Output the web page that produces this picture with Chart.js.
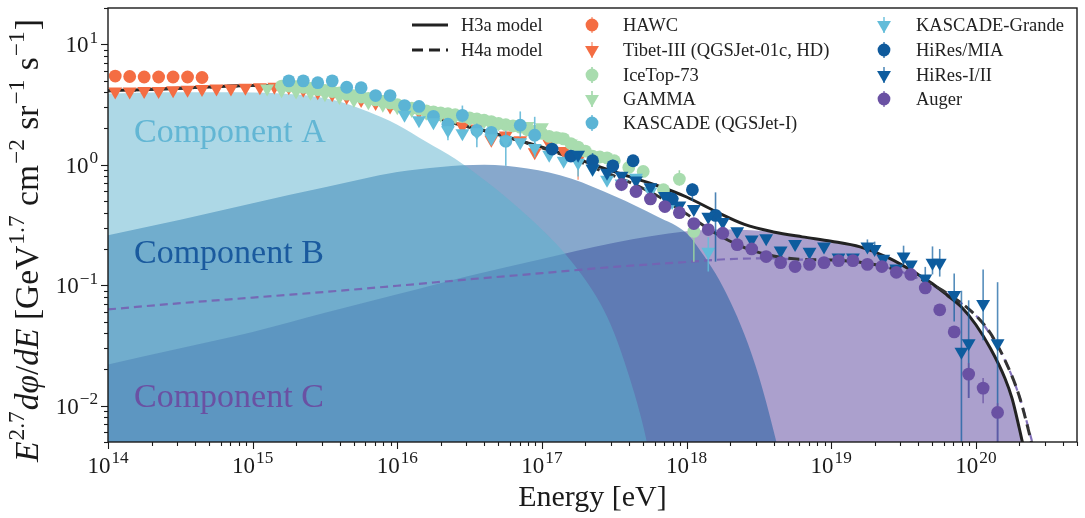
<!DOCTYPE html>
<html>
<head>
<meta charset="utf-8">
<script src="https://cdn.jsdelivr.net/npm/chart.js@4.4.1/dist/chart.umd.min.js"></script>
<style>
  html, body { margin: 0; padding: 0; background: #fff; }
</style>
</head>
<body>
<canvas id="myChart" width="1085" height="518"></canvas>
<script>
const SERIF = '"Liberation Serif", "DejaVu Serif", serif'

// model curves
const h3aLogE = [14.0, 14.25, 14.5, 14.75, 15.0, 15.2, 15.4, 15.6, 15.8, 16.0, 16.2, 16.4, 16.6, 16.8, 17.0, 17.2, 17.4, 17.6, 17.8, 18.0, 18.2, 18.4, 18.6, 18.8, 19.0, 19.2, 19.4, 19.6, 19.7, 19.8, 19.9, 20.0, 20.1, 20.2, 20.25, 20.3, 20.35]
const h3aFlux = [4.12, 4.2, 4.32, 4.45, 4.55, 4.5, 4.3, 4.05, 3.6, 3.0, 2.6, 2.2, 1.92, 1.64, 1.4, 1.17, 0.96, 0.8, 0.67, 0.54, 0.41, 0.32, 0.277, 0.252, 0.232, 0.208, 0.168, 0.123, 0.103, 0.083, 0.066, 0.047, 0.03, 0.017, 0.0115, 0.0065, 0.0035]

const h4aLogE = [14.0, 14.25, 14.5, 14.75, 15.0, 15.2, 15.4, 15.6, 15.8, 16.0, 16.2, 16.4, 16.6, 16.8, 17.0, 17.2, 17.4, 17.6, 17.8, 18.0, 18.2, 18.4, 18.6, 18.8, 19.0, 19.2, 19.4, 19.6, 19.8, 20.0, 20.1, 20.2, 20.3, 20.4]
const h4aFlux = [4.12, 4.2, 4.32, 4.45, 4.55, 4.5, 4.3, 4.05, 3.6, 3.0, 2.6, 2.2, 1.92, 1.64, 1.38, 1.14, 0.9, 0.72, 0.55, 0.39, 0.27, 0.205, 0.175, 0.164, 0.162, 0.155, 0.14, 0.115, 0.086, 0.056, 0.04, 0.024, 0.012, 0.0042]

const h4aCLogE = [14.0, 14.5, 15.0, 15.5, 16.0, 16.5, 17.0, 17.5, 18.0, 18.3, 18.6, 18.8, 19.0, 19.2, 19.4, 19.6, 19.8, 20.0, 20.1, 20.2, 20.3, 20.4]
const h4aCFlux = [0.063, 0.071, 0.079, 0.088, 0.099, 0.112, 0.126, 0.142, 0.156, 0.165, 0.167, 0.163, 0.161, 0.154, 0.139, 0.114, 0.085, 0.056, 0.039, 0.024, 0.012, 0.0045]

// shaded components
const compALogE = [14.0, 14.4, 14.8, 15.0, 15.2, 15.4, 15.6, 15.8, 16.0, 16.2, 16.4, 16.6, 16.8, 17.0, 17.2, 17.4, 17.5, 17.6, 17.7, 17.8]
const compAFlux = [3.9, 4.0, 4.0, 3.97, 3.9, 3.72, 3.35, 2.75, 2.15, 1.55, 1.12, 0.75, 0.48, 0.29, 0.16, 0.072, 0.04, 0.018, 0.0068, 0.0018]

const compBLogE = [14.0, 14.5, 15.0, 15.5, 16.0, 16.3, 16.6, 16.9, 17.2, 17.5, 17.8, 18.0, 18.1, 18.2, 18.3, 18.4, 18.5, 18.6, 18.7]
const compBFlux = [0.26, 0.35, 0.48, 0.65, 0.87, 0.96, 1.0, 0.93, 0.77, 0.55, 0.37, 0.27, 0.19, 0.125, 0.074, 0.039, 0.0175, 0.0063, 0.002]

const compCLogE = [14.0, 14.5, 15.0, 15.5, 16.0, 16.5, 17.0, 17.5, 18.0, 18.3, 18.6, 18.8, 19.0, 19.2, 19.4, 19.6, 19.7, 19.8, 19.9, 20.0, 20.1, 20.2, 20.25, 20.3, 20.35]
const compCFlux = [0.022, 0.030, 0.041, 0.059, 0.084, 0.12, 0.165, 0.225, 0.28, 0.29, 0.275, 0.25, 0.232, 0.208, 0.168, 0.123, 0.103, 0.083, 0.066, 0.047, 0.03, 0.017, 0.0115, 0.0065, 0.0035]

// measurements (null = error bar hidden by the marker)
const hawcLogE = [14.05, 14.15, 14.25, 14.35, 14.45, 14.55, 14.65]
const hawcFlux = [5.45, 5.4, 5.35, 5.35, 5.35, 5.35, 5.3]

const tibetLogE = [14.05, 14.15, 14.25, 14.35, 14.45, 14.55, 14.65, 14.75, 14.85, 14.95, 15.05, 15.15, 15.25, 15.35, 15.45, 15.55, 15.65, 15.75, 15.85, 15.95, 16.05, 16.15, 16.25, 16.35, 16.45, 16.55, 16.65, 16.75, 16.85, 16.95, 17.05, 17.15, 17.25]
const tibetFlux = [4.05, 4.05, 4.1, 4.1, 4.15, 4.2, 4.25, 4.3, 4.3, 4.35, 4.4, 4.45, 4.4, 4.2, 4.0, 3.85, 3.65, 3.45, 3.25, 3.04, 2.9, 2.75, 2.55, 2.35, 2.09, 2.0, 1.61, 1.75, 1.6, 1.27, 1.5, 1.3, 1.1]
const tibetLo = [null, null, null, null, null, null, null, null, null, null, null, null, null, null, null, null, null, null, null, null, null, null, null, null, null, null, null, null, null, 1.15, null, null, 0.75]
const tibetHi = [null, null, null, null, null, null, null, null, null, null, null, null, null, null, null, null, null, null, null, null, null, null, null, null, null, null, null, null, null, 1.42, null, null, 1.2]

const iceTopLogE = [15.2, 15.25, 15.3, 15.35, 15.4, 15.45, 15.5, 15.55, 15.6, 15.65, 15.7, 15.75, 15.8, 15.85, 15.9, 15.95, 16.0, 16.05, 16.1, 16.15, 16.2, 16.25, 16.3, 16.35, 16.4, 16.45, 16.5, 16.55, 16.6, 16.65, 16.7, 16.75, 16.8, 16.85, 16.9, 16.95, 17.0, 17.05, 17.1, 17.15, 17.2, 17.25, 17.3, 17.35, 17.4, 17.45, 17.5, 17.6, 17.7, 17.84, 17.95, 18.05]
const iceTopFlux = [4.5, 4.5, 4.45, 4.4, 4.3, 4.2, 4.15, 4.05, 3.95, 3.85, 3.75, 3.65, 3.55, 3.45, 3.35, 3.25, 3.15, 3.05, 2.95, 2.9, 2.8, 2.75, 2.7, 2.65, 2.6, 2.52, 2.45, 2.4, 2.35, 2.28, 2.2, 2.15, 2.1, 2.05, 1.95, 1.9, 1.82, 1.72, 1.68, 1.64, 1.5, 1.4, 1.3, 1.18, 1.16, 1.14, 1.08, 0.95, 0.88, 0.62, 0.76, 0.28]
const iceTopLo = iceTopLogE.map(() => null)
const iceTopHi = iceTopLogE.map(() => null)
iceTopLo[50] = 0.67; iceTopHi[50] = 0.9
iceTopLo[51] = 0.157; iceTopHi[51] = 0.35

const gammaLogE = [15.1, 15.2, 15.3, 15.4, 15.5, 15.6, 15.7, 15.8, 15.9, 16.0, 16.1, 16.2, 16.3, 16.4, 16.5, 16.6, 16.7, 16.8, 16.9, 17.0, 17.1, 17.2]
const gammaFlux = [4.3, 4.15, 4.05, 3.95, 3.85, 3.65, 3.45, 3.3, 3.15, 3.0, 2.85, 2.7, 2.6, 2.5, 2.4, 2.3, 2.2, 2.15, 2.1, 2.05, 1.72, 1.5]

const kascadeLogE = [15.25, 15.35, 15.45, 15.55, 15.65, 15.75, 15.85, 15.95, 16.05, 16.15, 16.25, 16.35, 16.45, 16.55, 16.65, 16.75, 16.85, 16.95]
const kascadeFlux = [4.97, 4.97, 4.8, 4.97, 4.4, 4.36, 3.75, 3.75, 3.1, 3.05, 2.52, 2.17, 2.57, 1.93, 1.86, 1.57, 2.13, 1.76]
const kascadeLo = [null, null, null, null, null, null, null, null, null, null, null, null, 2.25, 1.4, null, 0.98, 1.7, 1.2]
const kascadeHi = [null, null, null, null, null, null, null, null, null, null, null, null, 3.1, 2.2, null, 1.9, 2.77, 2.5]

const grandeLogE = [16.05, 16.15, 16.25, 16.35, 16.45, 16.55, 16.65, 16.75, 16.85, 16.95, 17.05, 17.15, 17.25, 17.35, 17.45, 17.55, 17.65, 17.75, 17.9, 18.15]
const grandeFlux = [2.6, 2.34, 2.25, 1.93, 1.83, 1.86, 1.66, 1.6, 1.54, 1.38, 1.21, 1.08, 1.04, 0.92, 0.75, 0.7, 0.78, 0.6, 0.49, 0.19]
const grandeLo = [null, null, null, 1.6, null, null, null, null, null, 1.15, null, null, 0.8, null, null, null, null, null, null, 0.13]
const grandeHi = [null, null, null, 2.1, null, null, null, null, null, 1.6, null, null, 1.3, null, null, null, null, null, null, 0.25]

const hiresMiaLogE = [17.07, 17.2, 17.35, 17.49, 17.63, 17.9, 18.04, 18.2]
const hiresMiaFlux = [1.35, 1.18, 1.08, 0.98, 1.08, 0.52, 0.62, 0.38]
const hiresMiaLo = [null, null, 0.85, 0.85, null, null, 0.5, 0.157]
const hiresMiaHi = [null, null, 1.25, 1.1, null, null, 0.7, 0.59]

const hiresLogE = [17.25, 17.35, 17.45, 17.55, 17.65, 17.75, 17.85, 17.95, 18.05, 18.15, 18.25, 18.35, 18.45, 18.55, 18.65, 18.75, 18.85, 18.95, 19.05, 19.15, 19.25, 19.3, 19.36, 19.45, 19.5, 19.55, 19.65, 19.7, 19.75, 19.85, 19.9, 19.95, 20.05, 20.15]
const hiresFlux = [1.21, 0.93, 0.86, 0.81, 0.74, 0.65, 0.55, 0.46, 0.43, 0.37, 0.335, 0.28, 0.24, 0.245, 0.194, 0.22, 0.19, 0.21, 0.17, 0.17, 0.21, 0.2, 0.166, 0.138, 0.173, 0.149, 0.114, 0.154, 0.154, 0.083, 0.028, 0.033, 0.07, 0.033]
const hiresLo = [null, null, null, null, null, null, null, null, null, null, null, null, null, null, null, null, null, null, null, null, 0.19, 0.18, null, null, 0.149, null, 0.089, 0.123, 0.118, 0.05, 0.002, 0.0116, 0.035, 0.002]
const hiresHi = [null, null, null, null, null, null, null, null, null, null, null, null, null, null, null, null, null, null, null, null, 0.24, 0.23, null, null, 0.213, null, 0.142, 0.21, 0.2, 0.125, 0.09, 0.075, 0.135, 0.106]

const augerLogE = [17.55, 17.65, 17.75, 17.85, 17.95, 18.05, 18.15, 18.25, 18.35, 18.45, 18.55, 18.65, 18.75, 18.85, 18.95, 19.05, 19.15, 19.25, 19.35, 19.45, 19.55, 19.65, 19.75, 19.85, 19.95, 20.05, 20.15]
const augerFlux = [0.686, 0.6, 0.52, 0.45, 0.4, 0.325, 0.29, 0.27, 0.217, 0.2, 0.173, 0.154, 0.143, 0.149, 0.154, 0.16, 0.16, 0.149, 0.143, 0.128, 0.123, 0.095, 0.0625, 0.041, 0.0183, 0.014, 0.0088]
const augerLo = augerLogE.map(() => null)
const augerHi = augerLogE.map(() => null)
augerLo[24] = 0.0116; augerHi[24] = 0.0226
augerLo[25] = 0.0105; augerHi[25] = 0.017
augerLo[26] = 0.004; augerHi[26] = 0.0105

const toPts = (logE, flux) => logE.map((l, i) => ({ x: Math.pow(10, l), y: flux[i] }))

function areaSet(label, logE, flux, color, order) {
    return {
        type: 'line', label: label, data: toPts(logE, flux),
        fill: 'start', backgroundColor: color, borderWidth: 0,
        pointRadius: 0, cubicInterpolationMode: 'monotone', order: order
    }
}

function curveSet(label, logE, flux, color, width, dash, order) {
    return {
        type: 'line', label: label, data: toPts(logE, flux),
        fill: false, borderColor: color, borderWidth: width, borderDash: dash,
        pointRadius: 0, cubicInterpolationMode: 'monotone', order: order
    }
}

function markerSet(label, logE, flux, lo, hi, color, errColor, style, order) {
    const tri = style === 'triangle'
    return {
        type: 'scatter', label: label, data: toPts(logE, flux),
        pointStyle: style, pointRadius: tri ? 8 : 6.4, rotation: tri ? 180 : 0,
        backgroundColor: color, borderColor: color, borderWidth: 0,
        errLo: lo, errHi: hi, errColor: errColor, order: order
    }
}

// error bars, drawn just before the markers of each data set
const errorBars = {
    id: 'errorBars',
    beforeDatasetDraw(chart, args) {
        const ds = chart.data.datasets[args.index]
        if (!ds.errLo) return
        const { ctx, chartArea: a } = chart
        const xs = chart.scales.x, ys = chart.scales.y
        ctx.save()
        ctx.beginPath()
        ctx.rect(a.left, a.top, a.right - a.left, a.bottom - a.top)
        ctx.clip()
        ctx.strokeStyle = ds.errColor
        ctx.lineWidth = 1.6
        ds.data.forEach((p, i) => {
            if (ds.errLo[i] == null) return
            const px = xs.getPixelForValue(p.x)
            ctx.beginPath()
            ctx.moveTo(px, ys.getPixelForValue(ds.errLo[i]))
            ctx.lineTo(px, ys.getPixelForValue(ds.errHi[i]))
            ctx.stroke()
        })
        ctx.restore()
    }
}

function drawPow(ctx, base, exp, x, y, align, size) {
    ctx.font = size + 'px ' + SERIF
    const wb = ctx.measureText(base).width
    ctx.font = (size * 0.75) + 'px ' + SERIF
    const we = ctx.measureText(exp).width
    const total = wb + 1 + we
    let x0 = x
    if (align === 'center') x0 = x - total / 2
    if (align === 'right') x0 = x - total
    ctx.textAlign = 'left'
    ctx.textBaseline = 'alphabetic'
    ctx.font = size + 'px ' + SERIF
    ctx.fillText(base, x0, y)
    ctx.font = (size * 0.75) + 'px ' + SERIF
    ctx.fillText(exp, x0 + wb + 1, y - size * 0.42)
}

function drawRich(ctx, parts, size, x, y) {
    // parts: [text, kind] kind = 'i' italic, 'n' normal, 's' superscript
    let cx = x
    parts.forEach(([t, k]) => {
        if (k === 's') {
            ctx.font = (size * 0.7) + 'px ' + SERIF
            ctx.fillText(t, cx + 1, y - size * 0.42)
            cx += ctx.measureText(t).width + 2
        } else {
            ctx.font = (k === 'i' ? 'italic ' : '') + size + 'px ' + SERIF
            ctx.fillText(t, cx, y)
            cx += ctx.measureText(t).width
        }
    })
    return cx - x
}

function legendMarker(ctx, style, color, errColor, x, y) {
    ctx.strokeStyle = errColor
    ctx.lineWidth = 1.6
    ctx.beginPath()
    ctx.moveTo(x, y - 8)
    ctx.lineTo(x, y + 8)
    ctx.stroke()
    ctx.fillStyle = color
    ctx.beginPath()
    if (style === 'triangle') {
        const r = 8
        ctx.moveTo(x, y + r)
        ctx.lineTo(x - r * 0.866, y - r / 2)
        ctx.lineTo(x + r * 0.866, y - r / 2)
        ctx.closePath()
    } else {
        ctx.arc(x, y, 6.4, 0, Math.PI * 2)
    }
    ctx.fill()
}

const decorations = {
    id: 'decorations',
    afterDraw(chart) {
        const { ctx, chartArea: a } = chart
        const xs = chart.scales.x, ys = chart.scales.y
        ctx.save()

        // component labels
        ctx.textAlign = 'left'
        ctx.textBaseline = 'alphabetic'
        ctx.font = '34px ' + SERIF
        ctx.fillStyle = 'rgb(98,182,212)'
        ctx.fillText('Component A', 134, 142)
        ctx.fillStyle = '#1a5a9e'
        ctx.fillText('Component B', 134, 263)
        ctx.fillStyle = '#6a51a3'
        ctx.fillText('Component C', 134, 407)

        // frame
        ctx.strokeStyle = '#1a1a1a'
        ctx.lineWidth = 1.4
        ctx.strokeRect(a.left, a.top, a.right - a.left, a.bottom - a.top)

        // ticks
        ctx.lineWidth = 1.1
        for (let d = 14; d <= 20; d++) {
            for (let k = 1; k <= 9; k++) {
                const v = k * Math.pow(10, d)
                if (v < xs.min || v > xs.max * 1.0001) continue
                const px = Math.round(xs.getPixelForValue(v)) + 0.5
                ctx.beginPath()
                ctx.moveTo(px, a.bottom)
                ctx.lineTo(px, a.bottom + (k === 1 ? 7 : 4))
                ctx.stroke()
            }
        }
        for (let d = -3; d <= 1; d++) {
            for (let k = 1; k <= 9; k++) {
                const v = k * Math.pow(10, d)
                if (v < ys.min * 0.9999 || v > ys.max * 1.0001) continue
                const py = Math.round(ys.getPixelForValue(v)) + 0.5
                ctx.beginPath()
                ctx.moveTo(a.left, py)
                ctx.lineTo(a.left - (k === 1 ? 7 : 4), py)
                ctx.stroke()
            }
        }

        // tick labels
        ctx.fillStyle = '#1a1a1a'
        for (let d = 14; d <= 20; d++) {
            drawPow(ctx, '10', String(d), xs.getPixelForValue(Math.pow(10, d)), 473, 'center', 23)
        }
        for (let d = -2; d <= 1; d++) {
            const exp = d < 0 ? '\u2212' + Math.abs(d) : String(d)
            drawPow(ctx, '10', exp, 98, ys.getPixelForValue(Math.pow(10, d)) + 8, 'right', 23)
        }

        // axis titles
        ctx.textAlign = 'center'
        ctx.font = '30px ' + SERIF
        ctx.fillText('Energy [eV]', (a.left + a.right) / 2, 506)

        const yParts = [['E', 'i'], ['2.7', 's'], ['d\u03c6', 'i'], ['/', 'n'], ['dE', 'i'], [' [GeV', 'n'], ['1.7', 's'],
            [' cm', 'n'], ['\u22122', 's'], [' sr', 'n'], ['\u22121', 's'], [' s', 'n'], ['\u22121', 's'], [']', 'n']]
        ctx.textAlign = 'left'
        ctx.save()
        ctx.translate(38, 462)
        ctx.rotate(-Math.PI / 2)
        drawRich(ctx, yParts, 33.5, 0, 0)
        ctx.restore()

        // legend
        ctx.font = '18.5px ' + SERIF
        ctx.textAlign = 'left'
        ctx.textBaseline = 'middle'
        ctx.strokeStyle = '#222'
        ctx.lineWidth = 3
        ctx.beginPath(); ctx.moveTo(412, 25); ctx.lineTo(448, 25); ctx.stroke()
        ctx.setLineDash([11, 6])
        ctx.beginPath(); ctx.moveTo(412, 50); ctx.lineTo(448, 50); ctx.stroke()
        ctx.setLineDash([])
        ctx.fillStyle = '#222'
        ctx.fillText('H3a model', 461, 26)
        ctx.fillText('H4a model', 461, 51)

        const rows = [25, 50, 75, 99, 123]
        legendCol2.forEach((e, i) => {
            legendMarker(ctx, e.style, e.color, e.err, 592, rows[i])
            ctx.fillStyle = '#222'
            ctx.fillText(e.label, 623, rows[i] + 1)
        })
        legendCol3.forEach((e, i) => {
            legendMarker(ctx, e.style, e.color, e.err, 884, rows[i])
            ctx.fillStyle = '#222'
            ctx.fillText(e.label, 916, rows[i] + 1)
        })
        ctx.restore()
    }
}

const orange = '#f46d43', orangeErr = 'rgba(244,109,67,0.6)'
const green = '#a8dcae', greenErr = 'rgba(150,210,160,0.9)'
const skyBlue = '#5bb4d5', skyErr = 'rgba(91,180,213,0.85)'
const cyan = '#62bcd9', cyanErr = 'rgba(98,188,217,0.85)'
const navy = '#0f5a9c', navyErr = 'rgba(15,90,156,0.75)'
const blue = '#0d5c9e', blueErr = 'rgba(13,92,158,0.7)'
const purple = '#6a51a3', purpleErr = 'rgba(106,81,163,0.75)'

const legendCol2 = [
    { label: 'HAWC', style: 'circle', color: orange, err: orangeErr },
    { label: 'Tibet-III (QGSJet-01c, HD)', style: 'triangle', color: orange, err: orangeErr },
    { label: 'IceTop-73', style: 'circle', color: green, err: greenErr },
    { label: 'GAMMA', style: 'triangle', color: green, err: greenErr },
    { label: 'KASCADE (QGSJet-I)', style: 'circle', color: skyBlue, err: skyErr }
]
const legendCol3 = [
    { label: 'KASCADE-Grande', style: 'triangle', color: cyan, err: cyanErr },
    { label: 'HiRes/MIA', style: 'circle', color: navy, err: navyErr },
    { label: 'HiRes-I/II', style: 'triangle', color: blue, err: blueErr },
    { label: 'Auger', style: 'circle', color: purple, err: purpleErr }
]

const nulls = (arr) => arr.map(() => null)

const data = {
    datasets: [
        areaSet('Component C', compCLogE, compCFlux, 'rgb(171,160,205)', 32),
        areaSet('Component B', compBLogE, compBFlux, 'rgba(28,91,158,0.53)', 31),
        areaSet('Component A', compALogE, compAFlux, 'rgba(91,177,205,0.5)', 30),
        curveSet('H4a component C', h4aCLogE, h4aCFlux, 'rgba(118,98,178,0.9)', 2.2, [8, 5], 22),
        curveSet('H3a model', h3aLogE, h3aFlux, '#222', 3, [], 21),
        curveSet('H4a model', h4aLogE, h4aFlux, '#333', 3, [11, 6], 20),
        markerSet('HAWC', hawcLogE, hawcFlux, nulls(hawcLogE), nulls(hawcLogE), orange, orangeErr, 'circle', 9),
        markerSet('Tibet-III', tibetLogE, tibetFlux, tibetLo, tibetHi, orange, orangeErr, 'triangle', 8),
        markerSet('IceTop-73', iceTopLogE, iceTopFlux, iceTopLo, iceTopHi, green, greenErr, 'circle', 7),
        markerSet('GAMMA', gammaLogE, gammaFlux, nulls(gammaLogE), nulls(gammaLogE), green, greenErr, 'triangle', 6),
        markerSet('KASCADE', kascadeLogE, kascadeFlux, kascadeLo, kascadeHi, skyBlue, skyErr, 'circle', 5),
        markerSet('KASCADE-Grande', grandeLogE, grandeFlux, grandeLo, grandeHi, cyan, cyanErr, 'triangle', 4),
        markerSet('HiRes/MIA', hiresMiaLogE, hiresMiaFlux, hiresMiaLo, hiresMiaHi, navy, navyErr, 'circle', 3),
        markerSet('HiRes-I/II', hiresLogE, hiresFlux, hiresLo, hiresHi, blue, blueErr, 'triangle', 2),
        markerSet('Auger', augerLogE, augerFlux, augerLo, augerHi, purple, purpleErr, 'circle', 1)
    ]
}

const config = {
    type: 'scatter',
    data: data,
    options: {
        responsive: false,
        animation: false,
        devicePixelRatio: 1,
        events: [],
        layout: { padding: { left: 108, right: 8, top: 4, bottom: 76 } },
        scales: {
            x: { type: 'logarithmic', min: 1e14, max: 5e20, display: false },
            y: { type: 'logarithmic', min: 0.005, max: 20, display: false }
        },
        plugins: {
            legend: { display: false },
            tooltip: { enabled: false }
        }
    },
    plugins: [errorBars, decorations]
}

let myChart = new Chart(document.getElementById('myChart'), config)
</script>
</body>
</html>
